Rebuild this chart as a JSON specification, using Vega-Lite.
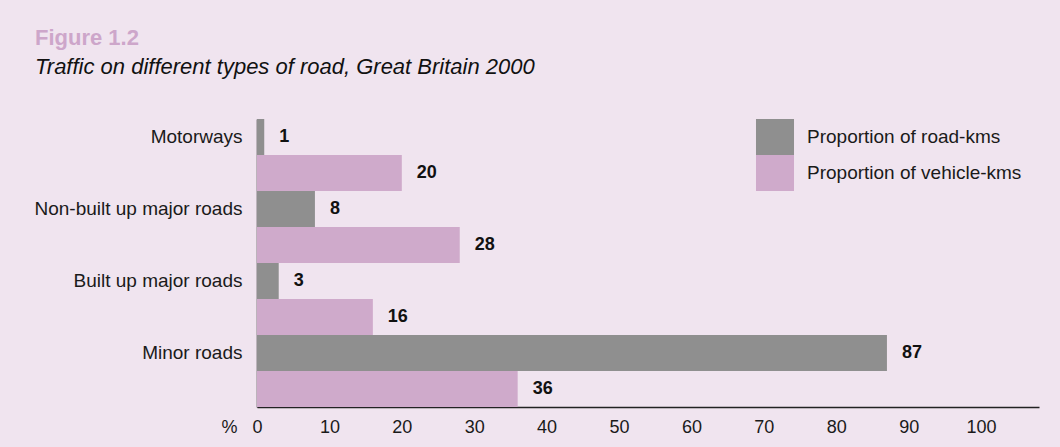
{
  "$schema": "https://vega.github.io/schema/vega-lite/v6.json",
  "width": 782,
  "height": 288,
  "autosize": {"type": "none"},
  "padding": {"left": 257, "top": 119, "right": 21, "bottom": 40},
  "background": "#f0e4ef",
  "title": {
    "text": "Figure 1.2",
    "subtitle": "Traffic on different types of road, Great Britain 2000",
    "anchor": "start",
    "frame": "group",
    "dx": -222,
    "offset": 40,
    "font": "Liberation Sans",
    "fontSize": 22,
    "fontWeight": "bold",
    "color": "#cda6ca",
    "subtitleFont": "Liberation Sans",
    "subtitleFontSize": 22,
    "subtitleFontStyle": "italic",
    "subtitleColor": "#111111",
    "subtitlePadding": 7
  },
  "config": {
    "view": {"stroke": null},
    "font": "Liberation Sans"
  },
  "data": {
    "values": [
      {"road": "Motorways", "series": "Proportion of road-kms", "value": 1},
      {"road": "Motorways", "series": "Proportion of vehicle-kms", "value": 20},
      {"road": "Non-built up major roads", "series": "Proportion of road-kms", "value": 8},
      {"road": "Non-built up major roads", "series": "Proportion of vehicle-kms", "value": 28},
      {"road": "Built up major roads", "series": "Proportion of road-kms", "value": 3},
      {"road": "Built up major roads", "series": "Proportion of vehicle-kms", "value": 16},
      {"road": "Minor roads", "series": "Proportion of road-kms", "value": 87},
      {"road": "Minor roads", "series": "Proportion of vehicle-kms", "value": 36}
    ]
  },
  "encoding": {
    "y": {
      "field": "road",
      "type": "nominal",
      "sort": null,
      "scale": {"paddingInner": 0, "paddingOuter": 0},
      "axis": {
        "title": null,
        "ticks": false,
        "labelOffset": -18,
        "labelLimit": 400,
        "labelFontSize": 19,
        "labelColor": "#1a1a1a",
        "labelPadding": 15,
        "domainColor": "#222222",
        "domainWidth": 1.5
      }
    },
    "yOffset": {
      "field": "series",
      "type": "nominal",
      "sort": null,
      "scale": {"paddingInner": 0, "paddingOuter": 0}
    },
    "x": {
      "field": "value",
      "type": "quantitative",
      "scale": {"domain": [0, 108], "nice": false},
      "axis": {
        "title": null,
        "grid": false,
        "ticks": false,
        "values": [0, 10, 20, 30, 40, 50, 60, 70, 80, 90, 100],
        "labelExpr": "datum.value == 0 ? '%\u00a0\u00a0\u00a00' : datum.label",
        "labelAlign": {"condition": {"test": "datum.value == 0", "value": "right"}, "value": "center"},
        "labelOffset": {"condition": {"test": "datum.value == 0", "value": 5}, "value": 0},
        "labelFontSize": 18,
        "labelColor": "#1a1a1a",
        "labelPadding": 11,
        "domainColor": "#222222",
        "domainWidth": 1.5
      }
    }
  },
  "layer": [
    {
      "mark": {"type": "bar", "cornerRadius": 0, "strokeWidth": 0},
      "encoding": {
        "color": {
          "field": "series",
          "type": "nominal",
          "sort": null,
          "scale": {"range": ["#8f8f8f", "#cfaacb"]},
          "legend": {
            "title": null,
            "orient": "none",
            "legendX": 500,
            "legendY": 0,
            "padding": 0,
            "rowPadding": 0,
            "symbolType": "M-1.056,-1H1.056V1H-1.056Z",
            "symbolSize": 1296,
            "symbolStrokeWidth": 0,
            "symbolOpacity": 1,
            "labelFontSize": 19,
            "labelColor": "#1a1a1a",
            "labelOffset": 14,
            "labelLimit": 400
          }
        }
      }
    },
    {
      "mark": {"type": "text", "align": "left", "dx": 15, "fontWeight": "bold", "fontSize": 18, "color": "#111111"},
      "encoding": {
        "text": {"field": "value", "type": "quantitative"}
      }
    }
  ]
}
